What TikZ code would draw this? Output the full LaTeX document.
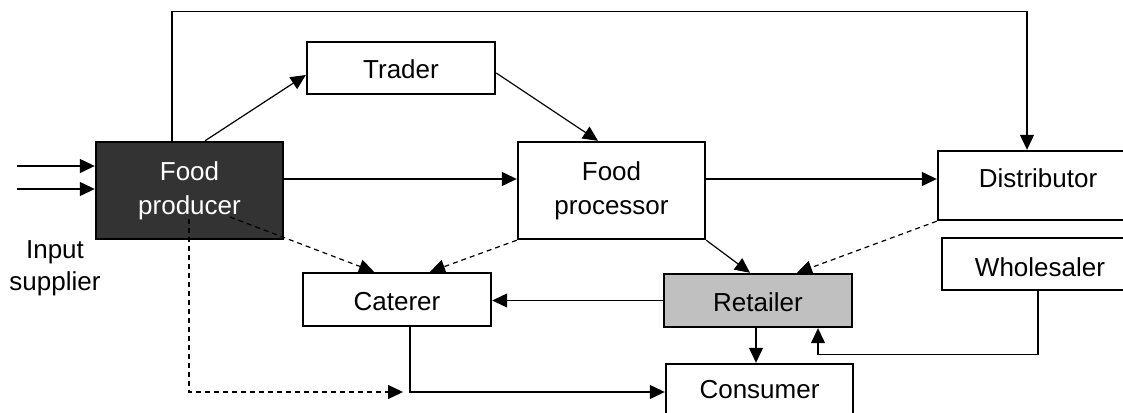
\documentclass[tikz,border=0pt]{standalone}
\usepackage{fontspec}
\setmainfont{Liberation Sans}
\usetikzlibrary{arrows.meta,calc}
\definecolor{producerfill}{RGB}{51,51,51}
\definecolor{retailfill}{RGB}{192,192,192}
% shift a label vertically without changing its box
\newcommand{\nudge}[2]{\raisebox{#1}[\height][\depth]{#2}}
\begin{document}
\begin{tikzpicture}[x=1pt,y=-1pt,
  box/.style={draw=black, line width=2.4pt, inner sep=0pt, align=center,
    font=\fontsize{26}{34}\selectfont},
  conn/.style={line width=1.2pt, -{Triangle[length=15pt,width=14pt]}},
  dconn/.style={conn, dash pattern=on 5pt off 4pt}]
\useasboundingbox (0,0) rectangle (1123,412);
\clip (0,0) rectangle (1123,412);

% actors
\node[box, fill=producerfill, text=white, minimum width=187pt, minimum height=97pt]
  (prod) at (189.5,190.5) {Food\\producer};
\node[box, minimum width=188pt, minimum height=52pt] (trader) at (401,68)
  {\nudge{-1.5pt}{Trader}};
\node[box, minimum width=187pt, minimum height=97pt] (proc) at (611.5,190.5)
  {Food\\processor};
\node[box, minimum width=200pt, minimum height=69pt] (dist) at (1038,185.5)
  {\nudge{7pt}{Distributor}};
\node[box, minimum width=196pt, minimum height=52pt] (whole) at (1040,264)
  {\nudge{-3pt}{Wholesaler}};
\node[box, minimum width=188pt, minimum height=53pt] (cater) at (397,299.5)
  {\nudge{-2pt}{Caterer}};
\node[box, fill=retailfill, minimum width=188pt, minimum height=53pt] (retail) at (758,300.5)
  {\nudge{-1.5pt}{Retailer}};
\node[box, minimum width=187pt, minimum height=52pt] (cons) at (759.5,390)
  {Consumer};
\node[inner sep=0pt, align=center, font=\fontsize{26}{32}\selectfont]
  (supplier) at (55,268) {Input\\supplier};

% inputs into the producer
\coordinate (in1) at (17,166);
\coordinate (in2) at (17,189);
\draw[conn] (in1) -- (in1 -| prod.west);
\draw[conn] (in2) -- (in2 -| prod.west);

% producer straight to the distributor over the top
\draw[conn] ([xshift=-17.5pt]prod.north) -- ++(0,-129) -| ([xshift=-11pt]dist.north);

% trader route
\draw[conn] ([xshift=15.5pt]prod.north) -- ([yshift=-7pt]trader.west);
\draw[conn] ([yshift=-5pt]trader.east) -- ([xshift=-13.5pt]proc.north);

% main chain
\draw[conn] ([yshift=11.5pt]prod.east) -- ([yshift=11.5pt]prod.east -| proc.west);
\draw[conn] ([yshift=11.5pt]proc.east) -- ([yshift=11.5pt]proc.east -| dist.west);
\draw[conn] (proc.south east) -- ([xshift=-8pt]retail.north);
\draw[dconn] (dist.south west) -- ([xshift=39pt]retail.north);

% into the caterer
\draw[dconn] (proc.south west) -- ([xshift=33pt]cater.north);
\draw[dconn] ([shift={(40.5,26.5)}]prod.center) -- ([xshift=-23pt]cater.north);
\draw[conn] (retail.west) -- (retail.west -| cater.east);

% producer direct to the consumer
\coordinate (dend) at (403,392);
\draw[dconn] ([shift={(-0.5,28.5)}]prod.center) |- (dend);

% to the consumer
\draw[conn] ([xshift=13pt]cater.south) |- ([yshift=-2pt]cons.west);
\draw[conn] ([xshift=-2pt]retail.south) -- ([xshift=-2pt]retail.south |- cons.north);

% wholesaler back to the retailer
\draw[conn] ([xshift=-2pt]whole.south) -- ++(0,63) -| ([xshift=60pt]retail.south);
\end{tikzpicture}
\end{document}
